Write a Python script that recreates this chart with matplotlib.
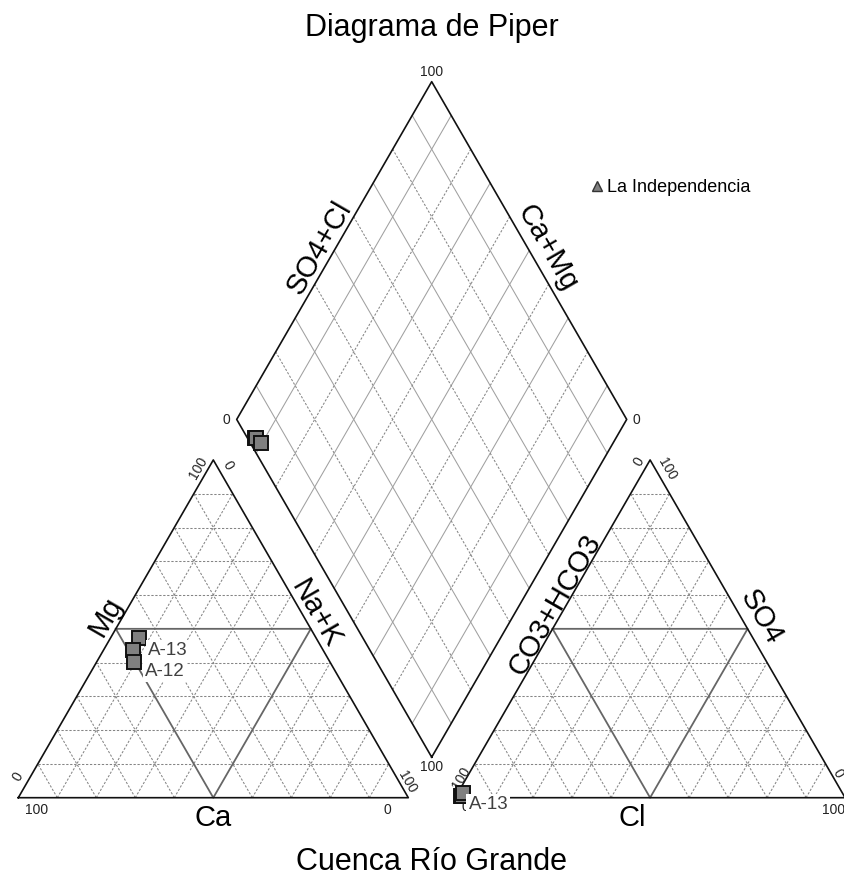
import matplotlib.pyplot as plt
from matplotlib.lines import Line2D
import numpy as np

plt.rcParams['font.family'] = ['Liberation Sans', 'DejaVu Sans']

# muestras (% meq/L)
muestras = ['A-13', 'A-14', 'A-12']
ca = [45.4, 48.7, 50.1]
mg = [47.2, 43.7, 40.3]
nak = [7.4, 7.6, 9.6]
hco3 = [98.2, 97.9, 97.3]
so4 = [0.4, 0.6, 1.3]
cl = [1.4, 1.5, 1.4]
grupo = 'La Independencia'

titulo = 'Diagrama de Piper'
subtitulo = 'Cuenca Río Grande'

# etiquetas visibles en cada triangulo (offset en pixeles)
etq_cat = {'A-13': (29, -12), 'A-12': (31, -10)}
etq_an = {'A-13': (27, -8)}

# geometria
GAP = 12
H = np.sqrt(3) / 2
OX_AN = 100 + GAP
PX = 3.9  # pixeles por unidad


def cat_xy(c, m, n):
    t = c + m + n
    m, n = 100 * m / t, 100 * n / t
    return n + m / 2, m * H


def an_xy(h, s, c):
    t = h + s + c
    s, c = 100 * s / t, 100 * c / t
    return OX_AN + c + s / 2, s * H


def dia_xy(camg, so4cl):
    return 100 + GAP / 2 - camg / 2 + so4cl / 2, GAP * H + H * (camg + so4cl)


def off(p, dx, dy):
    return p[0] + dx / PX, p[1] - dy / PX


fig = plt.figure(figsize=(8.45, 8.8), dpi=100)
ax = fig.add_axes([0, 0, 1, 1])
ax.set_xlim(-18.3 / PX, (845 - 18.3) / PX)
ax.set_ylim((797.7 - 880) / PX, 797.7 / PX)
ax.axis('off')

dash = dict(color='#858585', lw=0.75, ls=(0, (2.2, 1.6)), zorder=1)
fino = dict(color='#a0a0a0', lw=0.75, zorder=1)
medio = dict(color='#666666', lw=1.3, zorder=2)
borde = dict(color='#111111', lw=1.2, zorder=3)


def triangulo(ox):
    bl, br, ap = (ox, 0), (ox + 100, 0), (ox + 50, 100 * H)
    for i in range(1, 10):
        f = 10 * i
        if f == 50:
            continue
        ax.plot([ox + f / 2, ox + 100 - f / 2], [f * H, f * H], **dash)
        ax.plot([ox + f, ox + 50 + f / 2], [0, (100 - f) * H], **dash)
        ax.plot([ox + f, ox + f / 2], [0, f * H], **dash)
    mids = [(ox + 25, 50 * H), (ox + 75, 50 * H), (ox + 50, 0), (ox + 25, 50 * H)]
    ax.plot(*zip(*mids), **medio)
    ax.plot(*zip(bl, br, ap, bl), **borde)
    return bl, br, ap


c_bl, c_br, c_ap = triangulo(0)
a_bl, a_br, a_ap = triangulo(OX_AN)

# rombo
for i in range(1, 10):
    f = 10 * i
    st = fino if i % 2 else dash
    ax.plot(*zip(dia_xy(f, 0), dia_xy(f, 100)), **st)
    ax.plot(*zip(dia_xy(0, f), dia_xy(100, f)), **st)
d_b, d_l, d_t, d_r = dia_xy(0, 0), dia_xy(100, 0), dia_xy(100, 100), dia_xy(0, 100)
ax.plot(*zip(d_b, d_l, d_t, d_r, d_b), **borde)

# puntos
mk = dict(marker='s', ms=9.5, mfc='#808080', mec='#111111', mew=1.4, ls='none', zorder=6)
for i, nom in enumerate(muestras):
    pc = cat_xy(ca[i], mg[i], nak[i])
    pa = an_xy(hco3[i], so4[i], cl[i])
    pd_ = dia_xy(ca[i] + mg[i], so4[i] + cl[i])
    for p in (pc, pa, pd_):
        ax.plot(*p, **mk)
    lab = dict(textcoords='offset pixels', ha='center', va='center', fontsize=13.5,
               color='#404040', zorder=7,
               bbox=dict(boxstyle='square,pad=0.12', fc='white', ec='none'))
    if nom in etq_cat:
        ax.annotate(nom, pc, xytext=etq_cat[nom], **lab)
    if nom in etq_an:
        ax.annotate(nom, pa, xytext=etq_an[nom], **lab)

# marcas 0 / 100
tk = dict(fontsize=10, color='#222222', ha='center', va='center', rotation_mode='anchor', zorder=4)
marcas = [
    ('100', c_bl, 18, 12, 0), ('0', c_br, -21, 12, 0),
    ('0', c_bl, 0, -21, 60), ('100', c_ap, -15, 8, 60),
    ('0', c_ap, 15, 5, -60), ('100', c_br, -1, -16, -60),
    ('0', a_bl, 10, 9, 0), ('100', a_br, -12, 12, 0),
    ('100', a_bl, 6, -20, 60), ('0', a_ap, -11, 2, 60),
    ('100', a_ap, 17, 9, -60), ('0', a_br, -7, -24, -60),
    ('100', d_t, 0, -10, 0), ('0', d_l, -10, 1, 0),
    ('0', d_r, 10, 1, 0), ('100', d_b, 0, 10, 0),
]
for txt, p, dx, dy, rot in marcas:
    ax.text(*off(p, dx, dy), txt, rotation=rot, **tk)


# nombres de ejes
def lado(p0, p1, along, normal, txt, rot):
    p0, p1 = np.array(p0), np.array(p1)
    u = (p1 - p0) / np.linalg.norm(p1 - p0)
    n = np.array([-u[1], u[0]])
    if rot < 0:
        n = -n
    q = (p0 + p1) / 2 + along * u + normal * n
    ax.text(q[0], q[1], txt, rotation=rot, rotation_mode='anchor', ha='center',
            va='center', fontsize=21, color='black', zorder=4)


lado(c_bl, c_ap, 1.5, 3.8, 'Mg', 60)
lado(c_br, c_ap, 2.6, 3.0, 'Na+K', -60)
lado(d_l, d_t, -1.2, 3.8, 'SO4+Cl', 60)
lado(d_r, d_t, -1.6, 4.3, 'Ca+Mg', -60)
lado(a_bl, a_ap, 5.6, 2.5, 'CO3+HCO3', 60)
lado(a_br, a_ap, 0.8, 4.5, 'SO4', -60)
ax.text(*off((50, 0), 0, 6), 'Ca', ha='center', va='top', fontsize=21)
ax.text(*off((OX_AN + 50, 0), -18, 6), 'Cl', ha='center', va='top', fontsize=21)

ax.text(*off(d_t, 0, -46), titulo, ha='center', va='baseline', fontsize=22)
ax.text(*off(d_b, 0, 113), subtitulo, ha='center', va='baseline', fontsize=22)

# leyenda
h = Line2D([], [], marker='^', ls='none', mfc='#808080', mec='#333333', ms=7.5, mew=1)
ax.legend([h], [grupo], loc='center left', bbox_to_anchor=(590 / 845, 1 - 188 / 880),
          frameon=False, fontsize=13, handlelength=0.8, handletextpad=0.15,
          borderpad=0, borderaxespad=0, numpoints=1)

fig.savefig('out.png', dpi=100)
